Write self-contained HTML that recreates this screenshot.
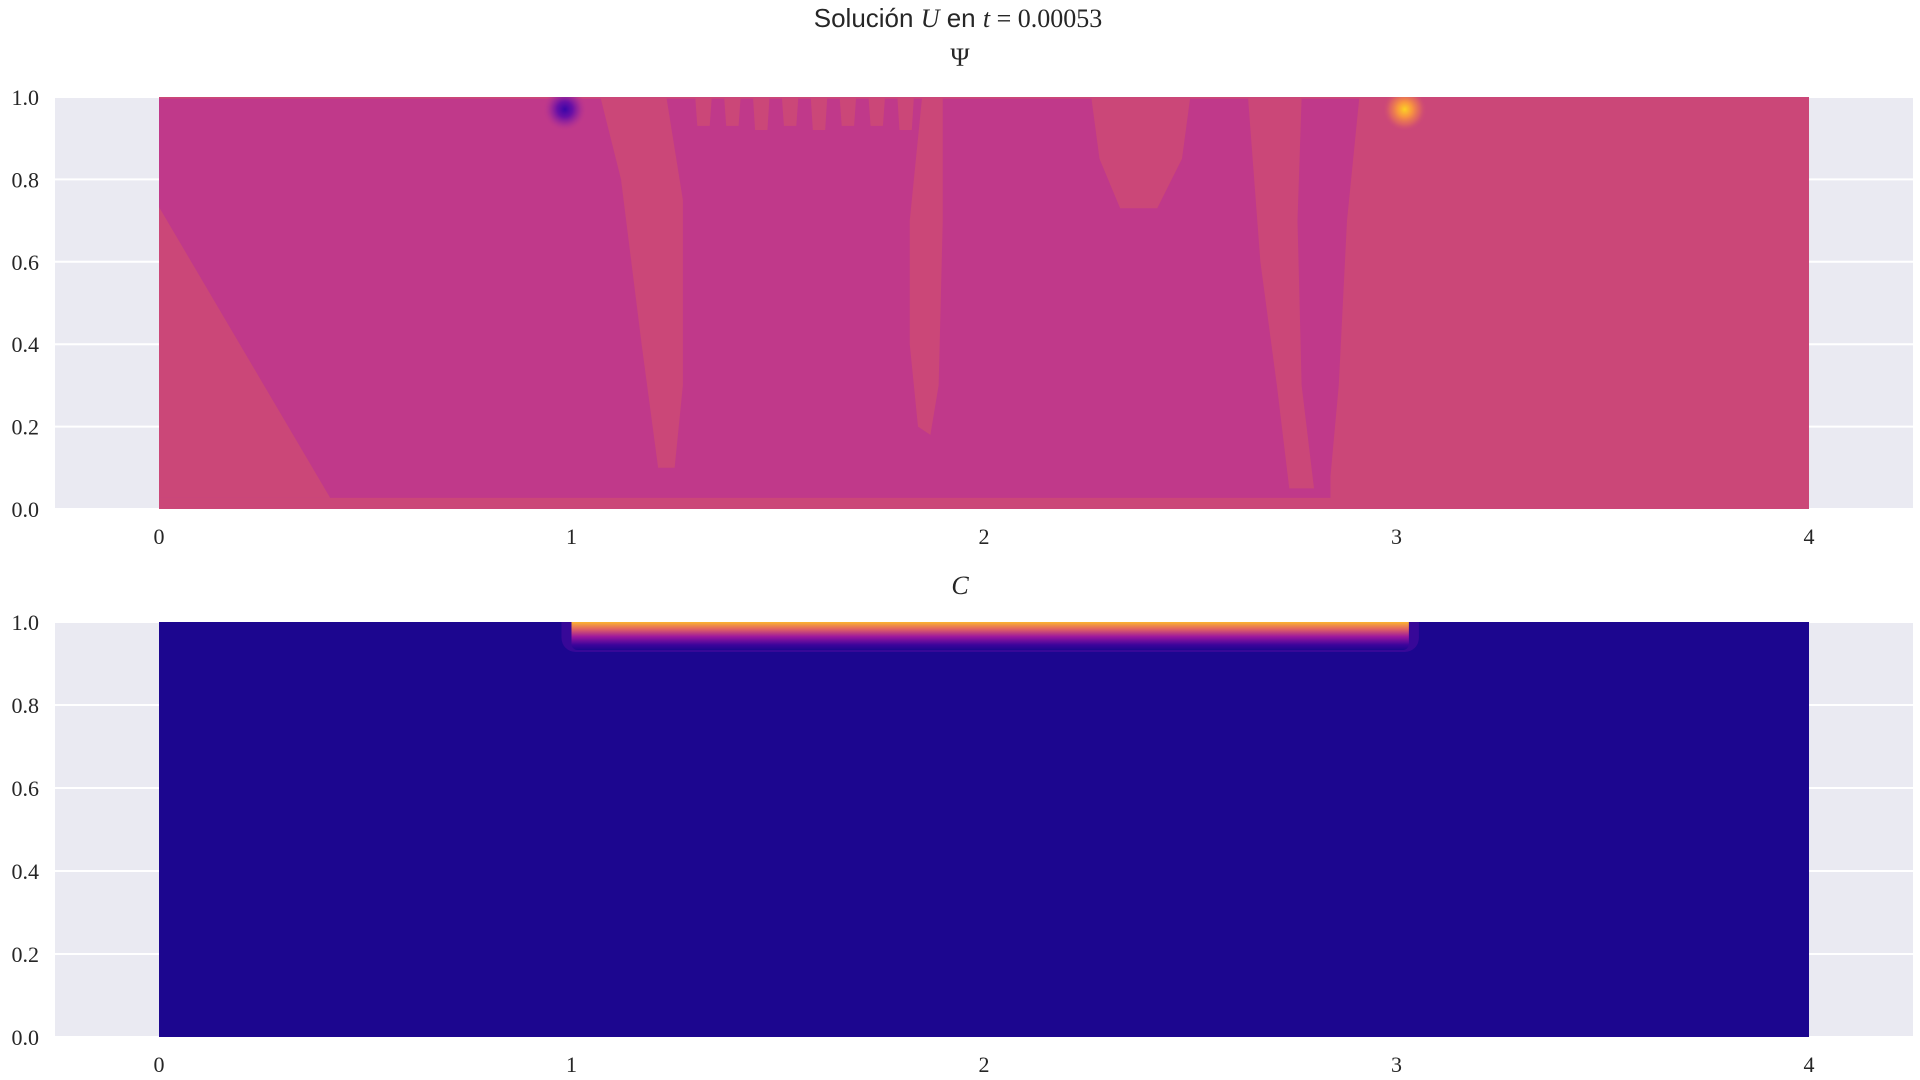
<!DOCTYPE html>
<html><head><meta charset="utf-8"><style>
html,body{margin:0;padding:0;background:#fff;}
svg{display:block;}
text{font-family:"Liberation Serif",serif;fill:#262626;}
</style></head><body>
<svg id="fig" width="1920" height="1080" viewBox="0 0 1920 1080" xmlns="http://www.w3.org/2000/svg">
<text x="958" y="27" text-anchor="middle" font-size="26"><tspan font-family="Liberation Sans, sans-serif">Solución </tspan><tspan font-style="italic">U</tspan><tspan font-family="Liberation Sans, sans-serif"> en </tspan><tspan font-style="italic">t</tspan><tspan> = 0.00053</tspan></text>
<text x="960" y="66" text-anchor="middle" font-size="26">Ψ</text>
<text x="960" y="594" text-anchor="middle" font-size="26" font-style="italic">C</text>
<defs>
<radialGradient id="gBlue"><stop offset="0" stop-color="#3a05a8"/><stop offset="0.35" stop-color="#6a10a6"/><stop offset="0.7" stop-color="#a52c96" stop-opacity="0.8"/><stop offset="1" stop-color="#c0398a" stop-opacity="0"/></radialGradient>
<radialGradient id="gYel"><stop offset="0" stop-color="#fcd125"/><stop offset="0.35" stop-color="#f89440"/><stop offset="0.7" stop-color="#e06560" stop-opacity="0.8"/><stop offset="1" stop-color="#cb4778" stop-opacity="0"/></radialGradient>
<linearGradient id="gBand" x1="0" y1="0" x2="0" y2="1"><stop offset="0" stop-color="#f0f921"/><stop offset="0.2" stop-color="#fcb430"/><stop offset="0.4" stop-color="#e16462"/><stop offset="0.62" stop-color="#9c179e"/><stop offset="0.85" stop-color="#3d049b"/><stop offset="1" stop-color="#1c068f"/></linearGradient>
<clipPath id="clipTop"><rect x="159" y="97" width="1650" height="412"/></clipPath>
<clipPath id="clipBot"><rect x="159" y="622" width="1650" height="415"/></clipPath>
</defs>
<g id="top"></g>
<g id="bot"></g>
</svg>
<script>
const xTicks=[0,1,2,3,4];
const yTicks=[0,0.2,0.4,0.6,0.8,1.0];
const yTickLabels=["0.0","0.2","0.4","0.6","0.8","1.0"];
const leftTriangle=[[0,0.733],[0.415,0.027],[0,0.027]];
const band1=[[1.07,1],[1.23,1],[1.27,0.75],[1.27,0.3],[1.25,0.1],[1.21,0.1],[1.17,0.4],[1.12,0.8]];
const band2=[[1.85,1],[1.9,1],[1.9,0.7],[1.89,0.3],[1.87,0.18],[1.84,0.2],[1.82,0.4],[1.82,0.7]];
const blob=[[2.26,1],[2.5,1],[2.48,0.85],[2.42,0.73],[2.33,0.73],[2.28,0.85]];
const band3=[[2.64,1],[2.77,1],[2.76,0.7],[2.77,0.3],[2.8,0.05],[2.74,0.05],[2.71,0.3],[2.67,0.6]];
const rightRegion=[[2.91,1],[4,1],[4,0],[2.84,0],[2.84,0.08],[2.86,0.3],[2.88,0.7]];
const fingerX=[1.3,1.37,1.44,1.51,1.58,1.65,1.72,1.79];
const fingerDepth=[0.93,0.93,0.92,0.93,0.92,0.93,0.93,0.92];
const blueSpot=[0.984,0.97];
const yellowSpot=[3.02,0.97];
const cBand=[1.0,3.03];

const NS="http://www.w3.org/2000/svg";
function mk(tag,attrs,parent){const e=document.createElementNS(NS,tag);for(const k in attrs)e.setAttribute(k,attrs[k]);parent.appendChild(e);return e;}
function axes(g,top,bot,name){
  const X0=159,X1=1809;
  const sx=v=>X0+v*(X1-X0)/4;
  const sy=v=>bot-v*(bot-top);
  const bg=mk('rect',{x:55,y:top,width:1858,height:bot-top,fill:'#eaeaf2'},g);
  
  
  yTicks.forEach((t,i)=>{
    const l=mk('line',{x1:55,x2:1913,y1:sy(t),y2:sy(t),stroke:'#fff','stroke-width':2},g);
    
    
    const tx=mk('text',{x:39,y:sy(t)+8,'text-anchor':'end','font-size':22},g);
    tx.textContent=yTickLabels[i];
    
    
  });
  xTicks.forEach(t=>{
    const tx=mk('text',{x:sx(t),y:bot+35,'text-anchor':'middle','font-size':22},g);
    tx.textContent=String(t);
    
    
  });
  return {sx,sy,X0,X1};
}
function poly(g,pts,a,fill,name){
  const p=mk('polygon',{points:pts.map(q=>a.sx(q[0])+','+a.sy(q[1])).join(' '),fill:fill},g);
  
  
}
const gt=document.getElementById('top');
const A=axes(gt,97,509,'psi');
const gtc=mk('g',{'clip-path':'url(#clipTop)'},gt);


const D='#c0398a',L='#cb4778';
const field=mk('rect',{x:A.X0,y:97,width:A.X1-A.X0,height:412,fill:D},gtc);


poly(gtc,[[0,0.027],[4,0.027],[4,0],[0,0]],A,L,'psi-bottom-strip');
poly(gtc,[[0,1],[4,1],[4,0.996],[0,0.996]],A,L,'psi-top-strip');
poly(gtc,leftTriangle,A,L,'psi-left-region');
poly(gtc,band1,A,L,'psi-band-1');
poly(gtc,band2,A,L,'psi-band-2');
poly(gtc,blob,A,L,'psi-blob');
poly(gtc,band3,A,L,'psi-band-3');
poly(gtc,rightRegion,A,L,'psi-right-region');
fingerX.forEach((fx,i)=>{
  poly(gtc,[[fx,1],[fx+0.04,1],[fx+0.035,fingerDepth[i]],[fx+0.005,fingerDepth[i]]],A,L,'psi-finger');
});
const bs=mk('circle',{cx:A.sx(blueSpot[0]),cy:A.sy(blueSpot[1]),r:22,fill:'url(#gBlue)'},gtc);


const ys=mk('circle',{cx:A.sx(yellowSpot[0]),cy:A.sy(yellowSpot[1]),r:22,fill:'url(#gYel)'},gtc);



const gb=document.getElementById('bot');
const B=axes(gb,622,1037,'c');
const gbc=mk('g',{'clip-path':'url(#clipBot)'},gb);


const cf=mk('rect',{x:B.X0,y:622,width:B.X1-B.X0,height:415,fill:'#1c068f'},gbc);


const bx0=B.sx(cBand[0]),bx1=B.sx(cBand[1]);
const glow=mk('rect',{x:bx0-10,y:600,width:bx1-bx0+20,height:52,rx:14,fill:'#4a0a9e',opacity:0.6},gbc);


const band=mk('rect',{x:bx0,y:615,width:bx1-bx0,height:35,rx:6,fill:'url(#gBand)'},gbc);


</script>
</body></html>
